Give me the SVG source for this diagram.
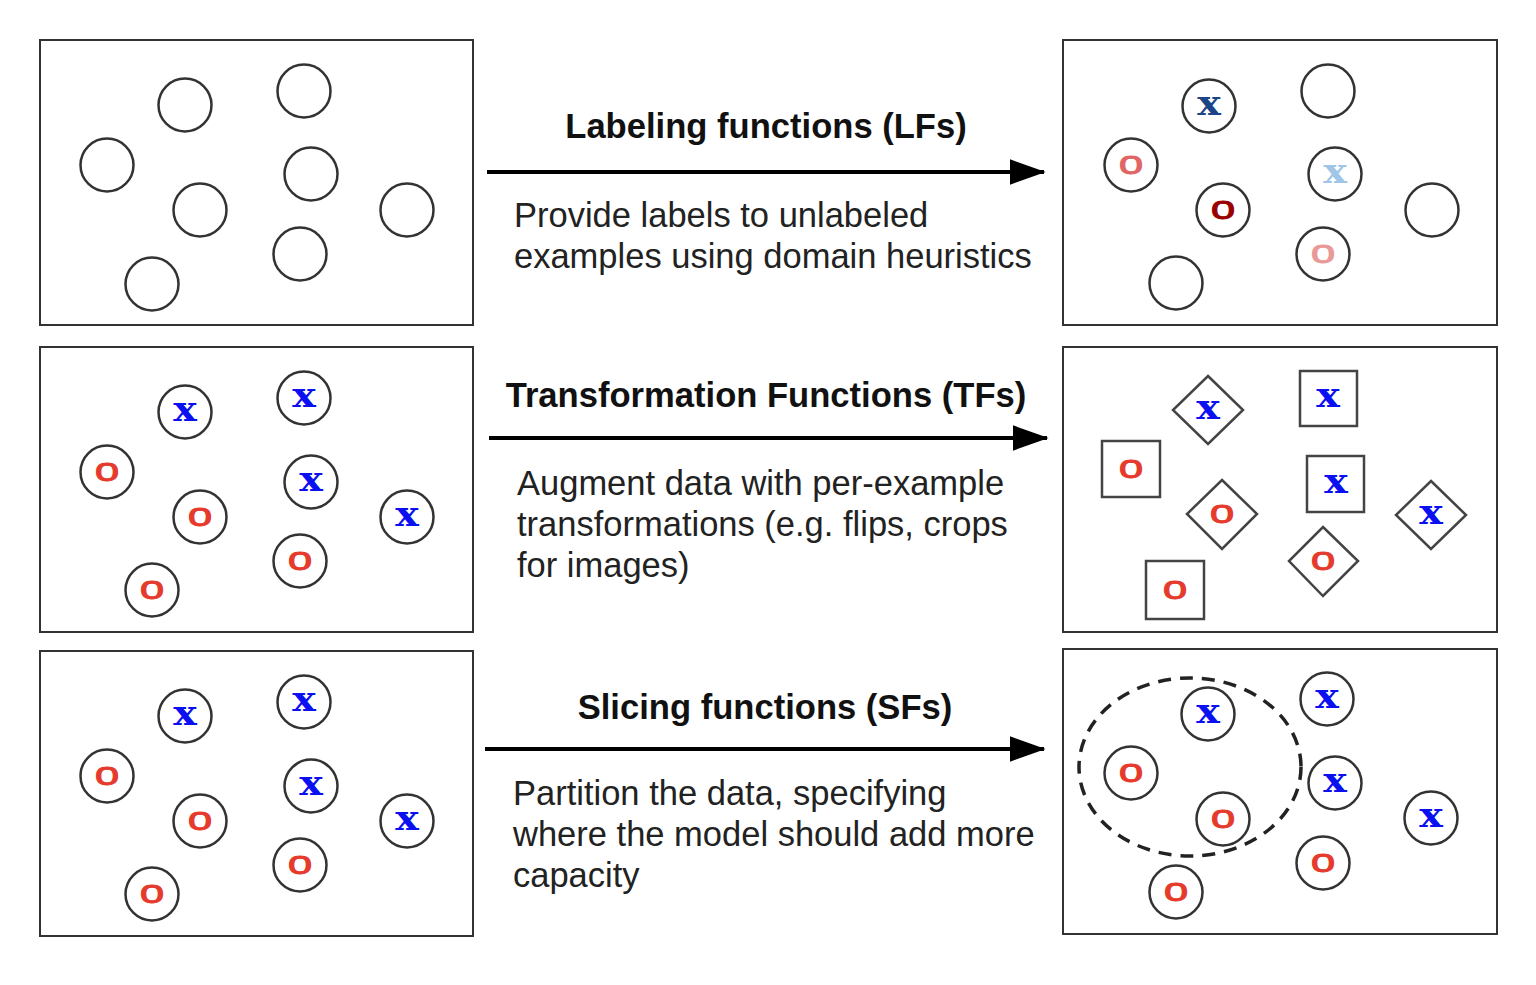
<svg xmlns="http://www.w3.org/2000/svg" width="1536" height="985" viewBox="0 0 1536 985">
<style>
.panel{fill:#fff;stroke:#333;stroke-width:2}
.c{fill:#fff;stroke:#333;stroke-width:2.5}
.sh{fill:#fff;stroke:#444;stroke-width:2.5}
.x{font-family:"DejaVu Serif",serif;font-weight:bold;font-size:33px;fill:#0a10f0;text-anchor:middle}
.o{font-family:"Liberation Sans",Arial,sans-serif;font-size:34px;fill:#e53a2c;stroke:#e53a2c;stroke-width:1;text-anchor:middle}
.t{font-family:"Liberation Sans",Arial,sans-serif;font-weight:bold;font-size:34.6px;fill:#111;text-anchor:middle}
.d{font-family:"Liberation Sans",Arial,sans-serif;font-size:34.5px;fill:#222}
.arr{stroke:#000;stroke-width:4;fill:none}
</style>
<defs>
<marker id="ah" markerWidth="9" markerHeight="6.4" refX="8.6" refY="3.2" orient="auto" markerUnits="strokeWidth">
<path d="M0,0 L9,3.2 L0,6.4 Z" fill="#000"/>
</marker>
</defs>
<rect width="1536" height="985" fill="#fff"/>

<g id="panel-lf-before">
<rect class="panel" x="40" y="40" width="433" height="285"/>
<circle class="c" cx="185" cy="105" r="26.5"/>
<circle class="c" cx="304" cy="91" r="26.5"/>
<circle class="c" cx="107" cy="165" r="26.5"/>
<circle class="c" cx="311" cy="174" r="26.5"/>
<circle class="c" cx="200" cy="210" r="26.5"/>
<circle class="c" cx="407" cy="210" r="26.5"/>
<circle class="c" cx="300" cy="254" r="26.5"/>
<circle class="c" cx="152" cy="284" r="26.5"/>
</g>

<g id="panel-lf-after">
<rect class="panel" x="1063" y="40" width="434" height="285"/>
<circle class="c" cx="1209" cy="106" r="26.5"/><text class="x" transform="translate(1209,114.5) scale(1.2,1)" style="fill:#1c4587">x</text>
<circle class="c" cx="1328" cy="91" r="26.5"/>
<circle class="c" cx="1131" cy="165" r="26.5"/><text class="o" transform="translate(1131,174) scale(1.3,1)" style="fill:#e06666;stroke:#e06666">o</text>
<circle class="c" cx="1335" cy="174" r="26.5"/><text class="x" transform="translate(1335,182.5) scale(1.2,1)" style="fill:#9fc5e8">x</text>
<circle class="c" cx="1223" cy="210" r="26.5"/><text class="o" transform="translate(1223,219) scale(1.3,1)" style="fill:#990000;stroke:#990000">o</text>
<circle class="c" cx="1432" cy="210" r="26.5"/>
<circle class="c" cx="1323" cy="254" r="26.5"/><text class="o" transform="translate(1323,263) scale(1.3,1)" style="fill:#ea9999;stroke:#ea9999">o</text>
<circle class="c" cx="1176" cy="283" r="26.5"/>
</g>

<g id="panel-tf-before">
<rect class="panel" x="40" y="347" width="433" height="285"/>
<circle class="c" cx="185" cy="412" r="26.5"/><text class="x" transform="translate(185,420.5) scale(1.2,1)">x</text>
<circle class="c" cx="304" cy="398" r="26.5"/><text class="x" transform="translate(304,406.5) scale(1.2,1)">x</text>
<circle class="c" cx="107" cy="472" r="26.5"/><text class="o" transform="translate(107,481) scale(1.3,1)">o</text>
<circle class="c" cx="311" cy="482" r="26.5"/><text class="x" transform="translate(311,490.5) scale(1.2,1)">x</text>
<circle class="c" cx="200" cy="517" r="26.5"/><text class="o" transform="translate(200,526) scale(1.3,1)">o</text>
<circle class="c" cx="407" cy="517" r="26.5"/><text class="x" transform="translate(407,525.5) scale(1.2,1)">x</text>
<circle class="c" cx="300" cy="561" r="26.5"/><text class="o" transform="translate(300,570) scale(1.3,1)">o</text>
<circle class="c" cx="152" cy="590" r="26.5"/><text class="o" transform="translate(152,599) scale(1.3,1)">o</text>
</g>

<g id="panel-tf-after">
<rect class="panel" x="1063" y="347" width="434" height="285"/>
<polygon class="sh" points="1208,376 1243,410 1208,444 1173,410"/><text class="x" transform="translate(1208,418.5) scale(1.2,1)">x</text>
<rect class="sh" x="1300" y="371" width="57" height="55"/><text class="x" transform="translate(1328,406.5) scale(1.2,1)">x</text>
<rect class="sh" x="1102" y="441" width="58" height="56"/><text class="o" transform="translate(1131,478) scale(1.3,1)">o</text>
<rect class="sh" x="1307" y="456" width="57" height="56"/><text class="x" transform="translate(1336,492.5) scale(1.2,1)">x</text>
<polygon class="sh" points="1222,480 1257,514 1222,549 1187,514"/><text class="o" transform="translate(1222,523) scale(1.3,1)">o</text>
<polygon class="sh" points="1431,481 1466,515 1431,549 1396,515"/><text class="x" transform="translate(1431,523.5) scale(1.2,1)">x</text>
<polygon class="sh" points="1323,527 1358,561 1323,596 1289,561"/><text class="o" transform="translate(1323,570) scale(1.3,1)">o</text>
<rect class="sh" x="1146" y="561" width="58" height="58"/><text class="o" transform="translate(1175,599) scale(1.3,1)">o</text>
</g>

<g id="panel-sf-before">
<rect class="panel" x="40" y="651" width="433" height="285"/>
<circle class="c" cx="185" cy="716" r="26.5"/><text class="x" transform="translate(185,724.5) scale(1.2,1)">x</text>
<circle class="c" cx="304" cy="702" r="26.5"/><text class="x" transform="translate(304,710.5) scale(1.2,1)">x</text>
<circle class="c" cx="107" cy="776" r="26.5"/><text class="o" transform="translate(107,785) scale(1.3,1)">o</text>
<circle class="c" cx="311" cy="786" r="26.5"/><text class="x" transform="translate(311,794.5) scale(1.2,1)">x</text>
<circle class="c" cx="200" cy="821" r="26.5"/><text class="o" transform="translate(200,830) scale(1.3,1)">o</text>
<circle class="c" cx="407" cy="821" r="26.5"/><text class="x" transform="translate(407,829.5) scale(1.2,1)">x</text>
<circle class="c" cx="300" cy="865" r="26.5"/><text class="o" transform="translate(300,874) scale(1.3,1)">o</text>
<circle class="c" cx="152" cy="894" r="26.5"/><text class="o" transform="translate(152,903) scale(1.3,1)">o</text>
</g>

<g id="panel-sf-after">
<rect class="panel" x="1063" y="649" width="434" height="285"/>
<ellipse cx="1190" cy="767" rx="111" ry="89" fill="none" stroke="#222" stroke-width="3.5" stroke-dasharray="13,9"/>
<circle class="c" cx="1208" cy="714" r="26.5"/><text class="x" transform="translate(1208,722.5) scale(1.2,1)">x</text>
<circle class="c" cx="1131" cy="773" r="26.5"/><text class="o" transform="translate(1131,782) scale(1.3,1)">o</text>
<circle class="c" cx="1223" cy="819" r="26.5"/><text class="o" transform="translate(1223,828) scale(1.3,1)">o</text>
<circle class="c" cx="1176" cy="892" r="26.5"/><text class="o" transform="translate(1176,901) scale(1.3,1)">o</text>
<circle class="c" cx="1327" cy="699" r="26.5"/><text class="x" transform="translate(1327,707.5) scale(1.2,1)">x</text>
<circle class="c" cx="1335" cy="783" r="26.5"/><text class="x" transform="translate(1335,791.5) scale(1.2,1)">x</text>
<circle class="c" cx="1323" cy="863" r="26.5"/><text class="o" transform="translate(1323,872) scale(1.3,1)">o</text>
<circle class="c" cx="1431" cy="818" r="26.5"/><text class="x" transform="translate(1431,826.5) scale(1.2,1)">x</text>
</g>

<g id="connectors">
<line class="arr" x1="487" y1="172" x2="1044" y2="172" marker-end="url(#ah)"/>
<line class="arr" x1="489" y1="438" x2="1047" y2="438" marker-end="url(#ah)"/>
<line class="arr" x1="485" y1="749" x2="1044" y2="749" marker-end="url(#ah)"/>
</g>

<g id="labels">
<text class="t" x="766" y="138">Labeling functions (LFs)</text>
<text class="d" x="514" y="227">Provide labels to unlabeled</text>
<text class="d" x="514" y="268">examples using domain heuristics</text>
<text class="t" x="766" y="407">Transformation Functions (TFs)</text>
<text class="d" x="517" y="495">Augment data with per-example</text>
<text class="d" x="517" y="536">transformations (e.g. flips, crops</text>
<text class="d" x="517" y="577">for images)</text>
<text class="t" x="765" y="719">Slicing functions (SFs)</text>
<text class="d" x="513" y="805">Partition the data, specifying</text>
<text class="d" x="513" y="846">where the model should add more</text>
<text class="d" x="513" y="887">capacity</text>
</g>
</svg>
